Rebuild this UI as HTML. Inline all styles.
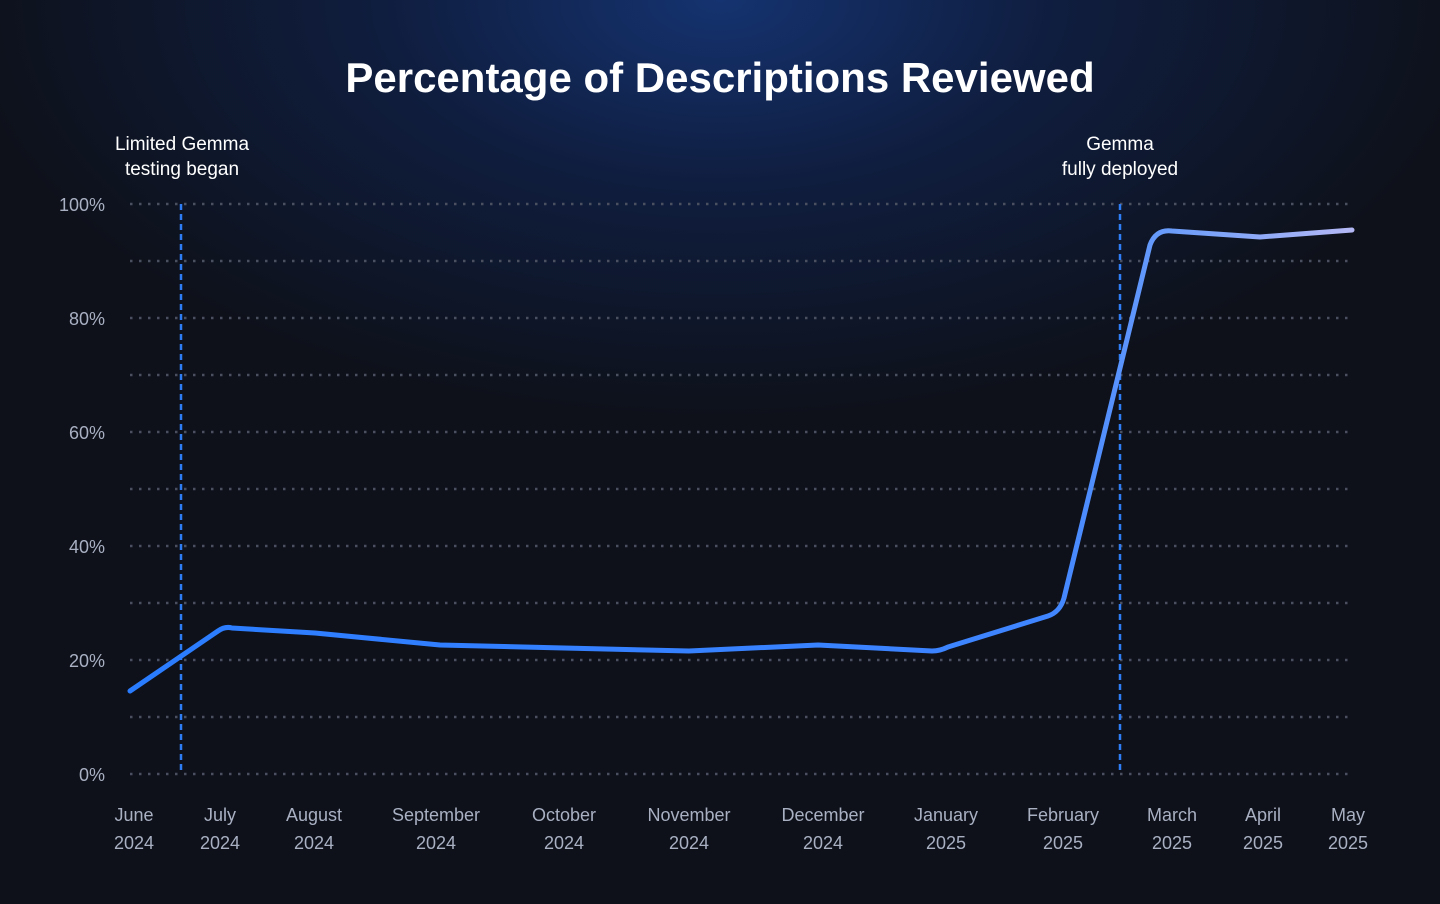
<!DOCTYPE html>
<html><head><meta charset="utf-8"><style>
html,body{margin:0;padding:0;}
body{width:1440px;height:899px;overflow:hidden;background:#0e111a;font-family:"Liberation Sans",sans-serif;}
</style></head><body>
<svg width="1440" height="899" viewBox="0 0 1440 899" xmlns="http://www.w3.org/2000/svg">
<defs>
<radialGradient id="bg" cx="720" cy="0" r="760" gradientUnits="userSpaceOnUse" gradientTransform="translate(720 0) scale(1 0.55) translate(-720 0)">
<stop offset="0" stop-color="#153370"/>
<stop offset="0.45" stop-color="#0f1d3e"/>
<stop offset="1" stop-color="#0e111a"/>
</radialGradient>
<linearGradient id="ln" x1="130" y1="0" x2="1352" y2="0" gradientUnits="userSpaceOnUse">
<stop offset="0" stop-color="#2a7cff"/>
<stop offset="0.75" stop-color="#3f85ff"/>
<stop offset="0.85" stop-color="#6a9cfa"/>
<stop offset="1" stop-color="#b4b8f5"/>
</linearGradient>
</defs>
<rect width="1440" height="899" fill="#0e111a"/>
<rect width="1440" height="899" fill="url(#bg)"/>
<text x="720" y="92" text-anchor="middle" fill="#fff" font-size="42" font-weight="bold">Percentage of Descriptions Reviewed</text>
<g stroke="#4a5060" stroke-width="2.5" stroke-dasharray="2.5 6.5">
<line x1="130" y1="204" x2="1352" y2="204"/><line x1="130" y1="261" x2="1352" y2="261"/>
<line x1="130" y1="318" x2="1352" y2="318"/><line x1="130" y1="375" x2="1352" y2="375"/>
<line x1="130" y1="432" x2="1352" y2="432"/><line x1="130" y1="489" x2="1352" y2="489"/>
<line x1="130" y1="546" x2="1352" y2="546"/><line x1="130" y1="603" x2="1352" y2="603"/>
<line x1="130" y1="660" x2="1352" y2="660"/><line x1="130" y1="717" x2="1352" y2="717"/>
<line x1="130" y1="774" x2="1352" y2="774"/>
</g>
<g fill="#a8b0c2" font-size="18" text-anchor="end">
<text x="105" y="211">100%</text><text x="105" y="325">80%</text><text x="105" y="439">60%</text>
<text x="105" y="553">40%</text><text x="105" y="667">20%</text><text x="105" y="781">0%</text>
</g>
<g stroke="#2f7df5" stroke-width="2.5" stroke-dasharray="6 4">
<line x1="181" y1="204" x2="181" y2="774"/><line x1="1120" y1="204" x2="1120" y2="774"/>
</g>
<g fill="#fff" font-size="19" text-anchor="middle">
<text x="182" y="150">Limited Gemma</text><text x="182" y="175">testing began</text>
<text x="1120" y="150">Gemma</text><text x="1120" y="175">fully deployed</text>
</g>
<path d="M130 691 L218 631 Q225 626 232 628 L315 633 L440 645 L564 648 L689 651 L818 645 L932 651 Q940 651 948 647 L1048 616 Q1060 612 1064 598 L1150 245 Q1156 229 1172 231 L1260 237 L1352 230" fill="none" stroke="url(#ln)" stroke-width="5" stroke-linejoin="round" stroke-linecap="round"/>
<g fill="#a8b0c2" font-size="18" text-anchor="middle">
<text x="134" y="821">June</text><text x="134" y="849">2024</text>
<text x="220" y="821">July</text><text x="220" y="849">2024</text>
<text x="314" y="821">August</text><text x="314" y="849">2024</text>
<text x="436" y="821">September</text><text x="436" y="849">2024</text>
<text x="564" y="821">October</text><text x="564" y="849">2024</text>
<text x="689" y="821">November</text><text x="689" y="849">2024</text>
<text x="823" y="821">December</text><text x="823" y="849">2024</text>
<text x="946" y="821">January</text><text x="946" y="849">2025</text>
<text x="1063" y="821">February</text><text x="1063" y="849">2025</text>
<text x="1172" y="821">March</text><text x="1172" y="849">2025</text>
<text x="1263" y="821">April</text><text x="1263" y="849">2025</text>
<text x="1348" y="821">May</text><text x="1348" y="849">2025</text>
</g>
</svg>
</body></html>
